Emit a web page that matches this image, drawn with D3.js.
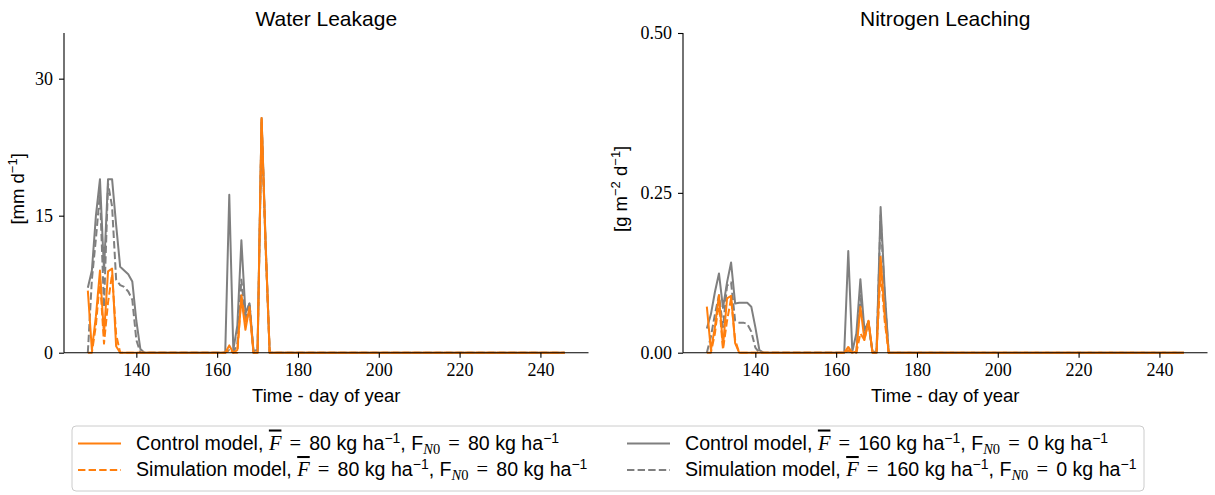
<!DOCTYPE html>
<html><head><meta charset="utf-8">
<script src="https://cdn.jsdelivr.net/npm/d3@7"></script>
<style>body{margin:0;background:#fff}svg{display:block}</style>
</head><body><svg id="c" width="1215" height="495"></svg>
<script>
// ---- data (days 128..173, then last day 246) ----
const days = [128,129,130,131,132,133,134,135,136,137,138,139,140,141,142,143,144,145,146,147,148,149,150,151,152,153,154,155,156,157,158,159,160,161,162,163,164,165,166,167,168,169,170,171,172,173,246];

const waterCtrl80  = [6.8,0.3,4.0,9.0,2.0,8.9,9.2,0.7,0,0,0,0,0,0, 0,0,0,0,0,0,0,0,0,0,0,0,0,0,0,0,0,0,0,0,0, 0.8,0,0.3,6.0,2.5,5.0,0,0,25.7,11.8,0, 0];
const waterSim80   = [0,0,3.0,8.0,1.0,5.5,8.6,2.0,0,0,0,0,0,0, 0,0,0,0,0,0,0,0,0,0,0,0,0,0,0,0,0,0,0,0,0, 0.3,0,0,6.3,3.2,4.7,0,0,25.5,11.5,0, 0];
const waterCtrl160 = [7.1,9.0,15.0,19.0,9.0,19.0,19.0,14.0,9.4,9.0,8.6,7.8,3.5,0.4, 0,0,0,0,0,0,0,0,0,0,0,0,0,0,0,0,0,0,0,0,0, 17.3,0.3,3.0,12.3,4.3,5.4,0.2,0.3,25.7,12.0,0, 0];
const waterSim160  = [0,8.0,12.5,17.5,5.0,18.5,16.0,8.0,7.4,7.2,6.7,5.8,1.4,0, 0,0,0,0,0,0,0,0,0,0,0,0,0,0,0,0,0,0,0,0,0, 0.3,0,1.0,8.0,3.5,5.5,0,0,25.2,11.5,0, 0];

const nitroCtrl80  = [0.072,0.004,0.04,0.09,0.01,0.085,0.089,0.015,0,0,0,0,0,0, 0,0,0,0,0,0,0,0,0,0,0,0,0,0,0,0,0,0,0,0,0, 0.009,0,0.002,0.072,0.02,0.05,0,0,0.15,0.06,0, 0];
const nitroSim80   = [0,0,0.03,0.08,0.005,0.05,0.085,0.02,0,0,0,0,0,0, 0,0,0,0,0,0,0,0,0,0,0,0,0,0,0,0,0,0,0,0,0, 0.004,0,0,0.03,0.02,0.049,0,0,0.13,0.05,0, 0];
const nitroCtrl160 = [0.038,0.06,0.095,0.124,0.07,0.11,0.141,0.077,0.078,0.078,0.078,0.072,0.04,0.004, 0,0,0,0,0,0,0,0,0,0,0,0,0,0,0,0,0,0,0,0,0, 0.159,0.002,0.03,0.115,0.035,0.049,0.001,0.002,0.228,0.1,0, 0];
const nitroSim160  = [0,0.025,0.06,0.09,0.04,0.105,0.11,0.05,0.047,0.047,0.045,0.033,0.008,0, 0,0,0,0,0,0,0,0,0,0,0,0,0,0,0,0,0,0,0,0,0, 0.003,0,0,0.09,0.03,0.045,0,0,0.215,0.09,0, 0];

const xTicks = [140,160,180,200,220,240];
const waterTicks = [0,15,30];
const nitroTicks = [0,0.25,0.5];
const waterMax = 35;
const nitroMax = 0.5;

const legendLabels = [
  {col:"#ff7f0e", dash:false, model:"Control model", f:"80", n0:"80"},
  {col:"#ff7f0e", dash:true,  model:"Simulation model", f:"80", n0:"80"},
  {col:"#7f7f7f", dash:false, model:"Control model", f:"160", n0:"0"},
  {col:"#7f7f7f", dash:true,  model:"Simulation model", f:"160", n0:"0"}
];

// ---- drawing ----
const svg = d3.select("#c");
const SANS = "'Liberation Sans', Arial, sans-serif";
const SERIF = "'Liberation Serif', 'Times New Roman', serif";
const ORANGE = "#ff7f0e", GRAY = "#7f7f7f";
const DASH = "7.4,3.2";

const ext = d3.extent(days), pad = (ext[1]-ext[0])*0.05;

function rich(textSel, parts){
  parts.forEach(p=>{
    const ts = textSel.append("tspan").text(p.t);
    if(p.font) ts.attr("font-family", p.font);
    if(p.italic) ts.attr("font-style","italic");
    if(p.over) ts.style("text-decoration","overline");
    if(p.size) ts.attr("font-size", p.size);
    if(p.dy) ts.attr("dy", p.dy);
    if(p.dx) ts.attr("dx", p.dx);
  });
}

function panel(cfg){
  const x = d3.scaleLinear().domain([ext[0]-pad, ext[1]+pad]).range([cfg.left, cfg.right]);
  const y = d3.scaleLinear().domain([0, cfg.ymax]).range([cfg.bottom, cfg.top]);
  const g = svg.append("g");
  const line = d3.line().x((d,i)=>x(days[i])).y(d=>y(d));
  cfg.series.forEach(s=>{
    g.append("path").datum(s.v).attr("d", line).attr("fill","none")
      .attr("stroke", s.col).attr("stroke-width", 2)
      .attr("stroke-dasharray", s.dash ? DASH : null)
      .attr("stroke-linejoin","round");
  });
  const xa = g.append("g").attr("transform",`translate(0,${cfg.bottom})`)
    .call(d3.axisBottom(x).tickValues(xTicks).tickSize(5).tickPadding(6).tickSizeOuter(0));
  const ya = g.append("g").attr("transform",`translate(${cfg.left},0)`)
    .call(d3.axisLeft(y).tickValues(cfg.ticks).tickFormat(cfg.fmt).tickSize(5).tickPadding(6).tickSizeOuter(0));
  [xa,ya].forEach(a=>{
    a.selectAll("text").attr("font-family", SERIF).attr("font-size", 18).attr("fill","#000");
    a.selectAll("line,path").attr("stroke","#000").attr("stroke-width",1.1);
  });
  xa.select(".domain").attr("d", `M${cfg.left},0H${cfg.right}`);
  ya.select(".domain").attr("d", `M0,${cfg.top}V${cfg.bottom}`);
  svg.append("text").attr("x",(cfg.left+cfg.right)/2).attr("y",26)
    .attr("text-anchor","middle").attr("font-family",SANS).attr("font-size",21).text(cfg.title);
  svg.append("text").attr("x",(cfg.left+cfg.right)/2).attr("y",402)
    .attr("text-anchor","middle").attr("font-family",SANS).attr("font-size",18.5).text("Time - day of year");
  const yl = svg.append("text").attr("transform",`translate(${cfg.ylx},${(cfg.top+cfg.bottom)/2-4}) rotate(-90)`)
    .attr("text-anchor","middle").attr("font-family",SANS).attr("font-size",18.5);
  rich(yl, cfg.ylabel);
}

panel({left:64, right:588.5, top:33, bottom:352.7, ymax:waterMax, ticks:waterTicks,
  fmt:d3.format("d"), title:"Water Leakage", ylx:24,
  ylabel:[{t:"[mm d"},{t:"−1",size:13,dy:-7},{t:"]",dy:7}],
  series:[{v:waterCtrl160,col:GRAY},{v:waterSim160,col:GRAY,dash:true},
          {v:waterCtrl80,col:ORANGE},{v:waterSim80,col:ORANGE,dash:true}]});
panel({left:683, right:1207.5, top:33, bottom:352.7, ymax:nitroMax, ticks:nitroTicks,
  fmt:d3.format(".2f"), title:"Nitrogen Leaching", ylx:627,
  ylabel:[{t:"[g m"},{t:"−2",size:13,dy:-7},{t:" d",dy:7},{t:"−1",size:13,dy:-7},{t:"]",dy:7}],
  series:[{v:nitroCtrl160,col:GRAY},{v:nitroSim160,col:GRAY,dash:true},
          {v:nitroCtrl80,col:ORANGE},{v:nitroSim80,col:ORANGE,dash:true}]});

// ---- legend ----
const lg = svg.append("g");
lg.append("rect").attr("x",72).attr("y",426).attr("width",1072).attr("height",65).attr("rx",4)
  .attr("fill","#fff").attr("stroke","#cccccc").attr("stroke-width",1);
const pos = [[78,443.5],[78,470],[627,443.5],[627,470]];
legendLabels.forEach((L,i)=>{
  const [lx,ly] = pos[i];
  lg.append("line").attr("x1",lx).attr("x2",lx+43).attr("y1",ly).attr("y2",ly)
    .attr("stroke",L.col).attr("stroke-width",2).attr("stroke-dasharray",L.dash?DASH:null);
  const t = lg.append("text").attr("x",lx+58).attr("y",ly+6).attr("font-family",SANS).attr("font-size",19.6);
  rich(t, [
    {t:L.model+", "},
    {t:"F",font:SERIF,italic:true,over:true,size:20.5},
    {t:" = ",font:SERIF,size:20.5,dx:3},
    {t:L.f+" kg ha",dx:3},
    {t:"−1",size:14,dy:-7},
    {t:", F",dy:7},
    {t:"N",font:SERIF,italic:true,size:14.5,dy:4},
    {t:"0",font:SERIF,size:14.5},
    {t:" = ",font:SERIF,size:20.5,dy:-4,dx:3},
    {t:L.n0+" kg ha",dx:3},
    {t:"−1",size:14,dy:-7}
  ]);
});
</script></body></html>
